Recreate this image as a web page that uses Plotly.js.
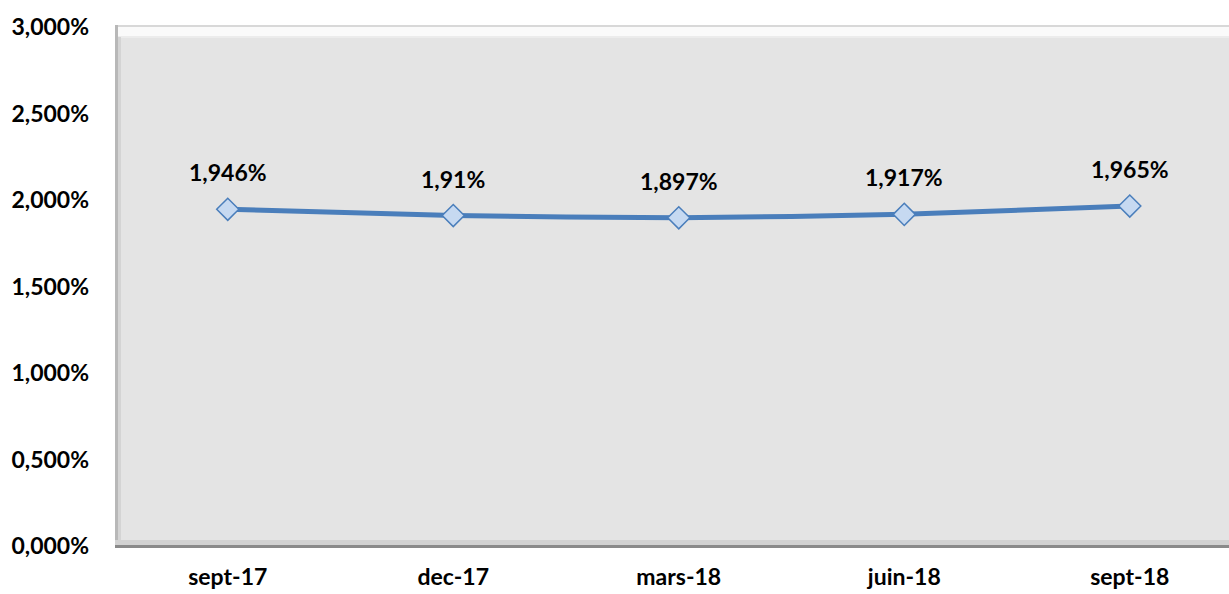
<!DOCTYPE html>
<html>
<head>
<meta charset="utf-8">
<script src="https://cdn.plot.ly/plotly-3.0.1.min.js"></script>
<style>html,body{margin:0;padding:0;background:#fff;}#chart{width:1229px;height:594px;}</style>
</head>
<body>
<div id="chart"></div>
<script>
const categories = ["sept-17", "dec-17", "mars-18", "juin-18", "sept-18"];
const values = [1.946, 1.91, 1.897, 1.917, 1.965];
const labels = ["1,946%", "1,91%", "1,897%", "1,917%", "1,965%"];
const yTickVals = [0, 0.5, 1, 1.5, 2, 2.5, 3];
const yTickText = ["0,000%", "0,500%", "1,000%", "1,500%", "2,000%", "2,500%", "3,000%"];

const font = "Lato, 'Open Sans', sans-serif";

const trace = {
  x: categories,
  y: values,
  type: "scatter",
  mode: "lines+markers",
  line: {color: "#4a7ebb", width: 5, shape: "spline", smoothing: 0.6},
  marker: {symbol: "diamond", size: 17, color: "#c6d9f1", line: {color: "#4a7ebb", width: 1.5}},
  hoverinfo: "skip",
  cliponaxis: false
};

const annotations = categories.map((c, i) => ({
  x: c, y: values[i], xref: "x", yref: "y",
  text: labels[i], showarrow: false, yshift: 37,
  font: {family: font, size: 23, color: "#000", weight: "bold"}
}));

const px = 1/1114, py = 1/523;
const shapes = [
  {type: "rect", xref: "paper", yref: "paper", x0: 0, x1: 1, y0: 1 - 12*py, y1: 1, fillcolor: "#fafafa", line: {width: 0}, layer: "below"},
  {type: "line", xref: "paper", yref: "paper", x0: 0, x1: 1, y0: 1 - 1*py, y1: 1 - 1*py, line: {color: "#d8d8d8", width: 2}, layer: "below"},
  {type: "line", xref: "paper", yref: "paper", x0: 0, x1: 1, y0: 1 - 12*py, y1: 1 - 12*py, line: {color: "#ececec", width: 2}, layer: "below"},
  {type: "rect", xref: "paper", yref: "paper", x0: 0, x1: 3*px, y0: 0, y1: 1, fillcolor: "#b8b8b8", line: {width: 0}, layer: "below"},
  {type: "rect", xref: "paper", yref: "paper", x0: 3*px, x1: 6*px, y0: 0, y1: 1 - 12*py, fillcolor: "#d4d4d4", line: {width: 0}, layer: "below"},
  {type: "rect", xref: "paper", yref: "paper", x0: 0, x1: 1, y0: 0, y1: 8*py, fillcolor: "#d2d2d2", line: {width: 0}, layer: "below"},
  {type: "rect", xref: "paper", yref: "paper", x0: 0, x1: 1, y0: 0, y1: 3*py, fillcolor: "#8a8a8a", line: {width: 0}, layer: "below"}
];

const layout = {
  width: 1229, height: 594,
  margin: {l: 115, r: 0, t: 25, b: 46},
  paper_bgcolor: "#ffffff",
  plot_bgcolor: "#e4e4e4",
  showlegend: false,
  xaxis: {
    type: "category",
    range: [-0.5, 4.44],
    showgrid: false, zeroline: false, showline: false,
    ticks: "", ticklabelstandoff: 13,
    tickfont: {family: font, size: 23, color: "#000", weight: "bold"},
    fixedrange: true
  },
  yaxis: {
    range: [-0.0116, 3.0116],
    tickvals: yTickVals, ticktext: yTickText,
    showgrid: false, zeroline: false, showline: false,
    ticks: "", ticklabelstandoff: 25,
    tickfont: {family: font, size: 23, color: "#000", weight: "bold"},
    fixedrange: true
  },
  annotations: annotations,
  shapes: shapes
};

Plotly.newPlot("chart", [trace], layout, {displayModeBar: false, staticPlot: true});
</script>
</body>
</html>
